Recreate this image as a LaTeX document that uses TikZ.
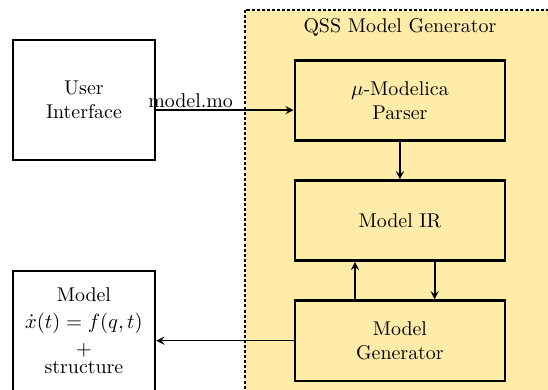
\documentclass[tikz,border=0pt]{standalone}
\usetikzlibrary{positioning}
\definecolor{qssyellow}{RGB}{255,236,168}
\tikzset{
  every node/.style={font=\fontsize{10.6}{13}\selectfont},
  block/.style={draw, line width=1.3pt, fill=qssyellow, align=center,
    minimum width=3.93cm, minimum height=1.5cm},
  outbox/.style={draw, line width=1.3pt, fill=white, align=center,
    minimum width=2.66cm, minimum height=2.24cm},
  flow/.style={->, line width=0.9pt}
}
\begin{document}
\begin{tikzpicture}[>=stealth]
  \useasboundingbox (0, 0) rectangle (10.25, -7.29);
  \begin{scope}
    \clip (0, 0) rectangle (10.25, -7.29);
    \draw[line width=1pt, dash pattern=on 1.6pt off 1.1pt, fill=qssyellow]
      (4.58, -0.19) rectangle (11, -8);
    \node[outbox] (model) at (1.57, -6.19)
      {Model\\[1.5pt]$\dot{x}(t) = f(q,t)$\\[1pt]$+$\\[-3pt]structure};
  \end{scope}
  \node (title) at (7.48, -0.52) {QSS Model Generator};
  \node[outbox] (ui) at (1.57, -1.87) {User\\Interface};
  \node[block] (parser) at (7.48, -1.88) {$\mu$-Modelica\\Parser};
  \node[block, below=0.7cm of parser] (ir) {Model IR};
  \node[block, below=0.7cm of ir] (gen) {Model\\Generator};
  % connectors
  \draw[flow] ([yshift=-0.19cm]ui.east) -- ([yshift=-0.19cm]ui.east -| parser.west)
    node[above, pos=0.25, inner sep=1pt] {model.mo};
  \draw[flow] (parser) -- (ir);
  \draw[flow] ([xshift=-0.84cm]gen.north) -- ([xshift=-0.84cm]ir.south);
  \draw[flow] ([xshift=0.65cm]ir.south) -- ([xshift=0.65cm]gen.north);
  \draw[flow] (gen.west) -- (gen.west -| model.east);
\end{tikzpicture}
\end{document}
